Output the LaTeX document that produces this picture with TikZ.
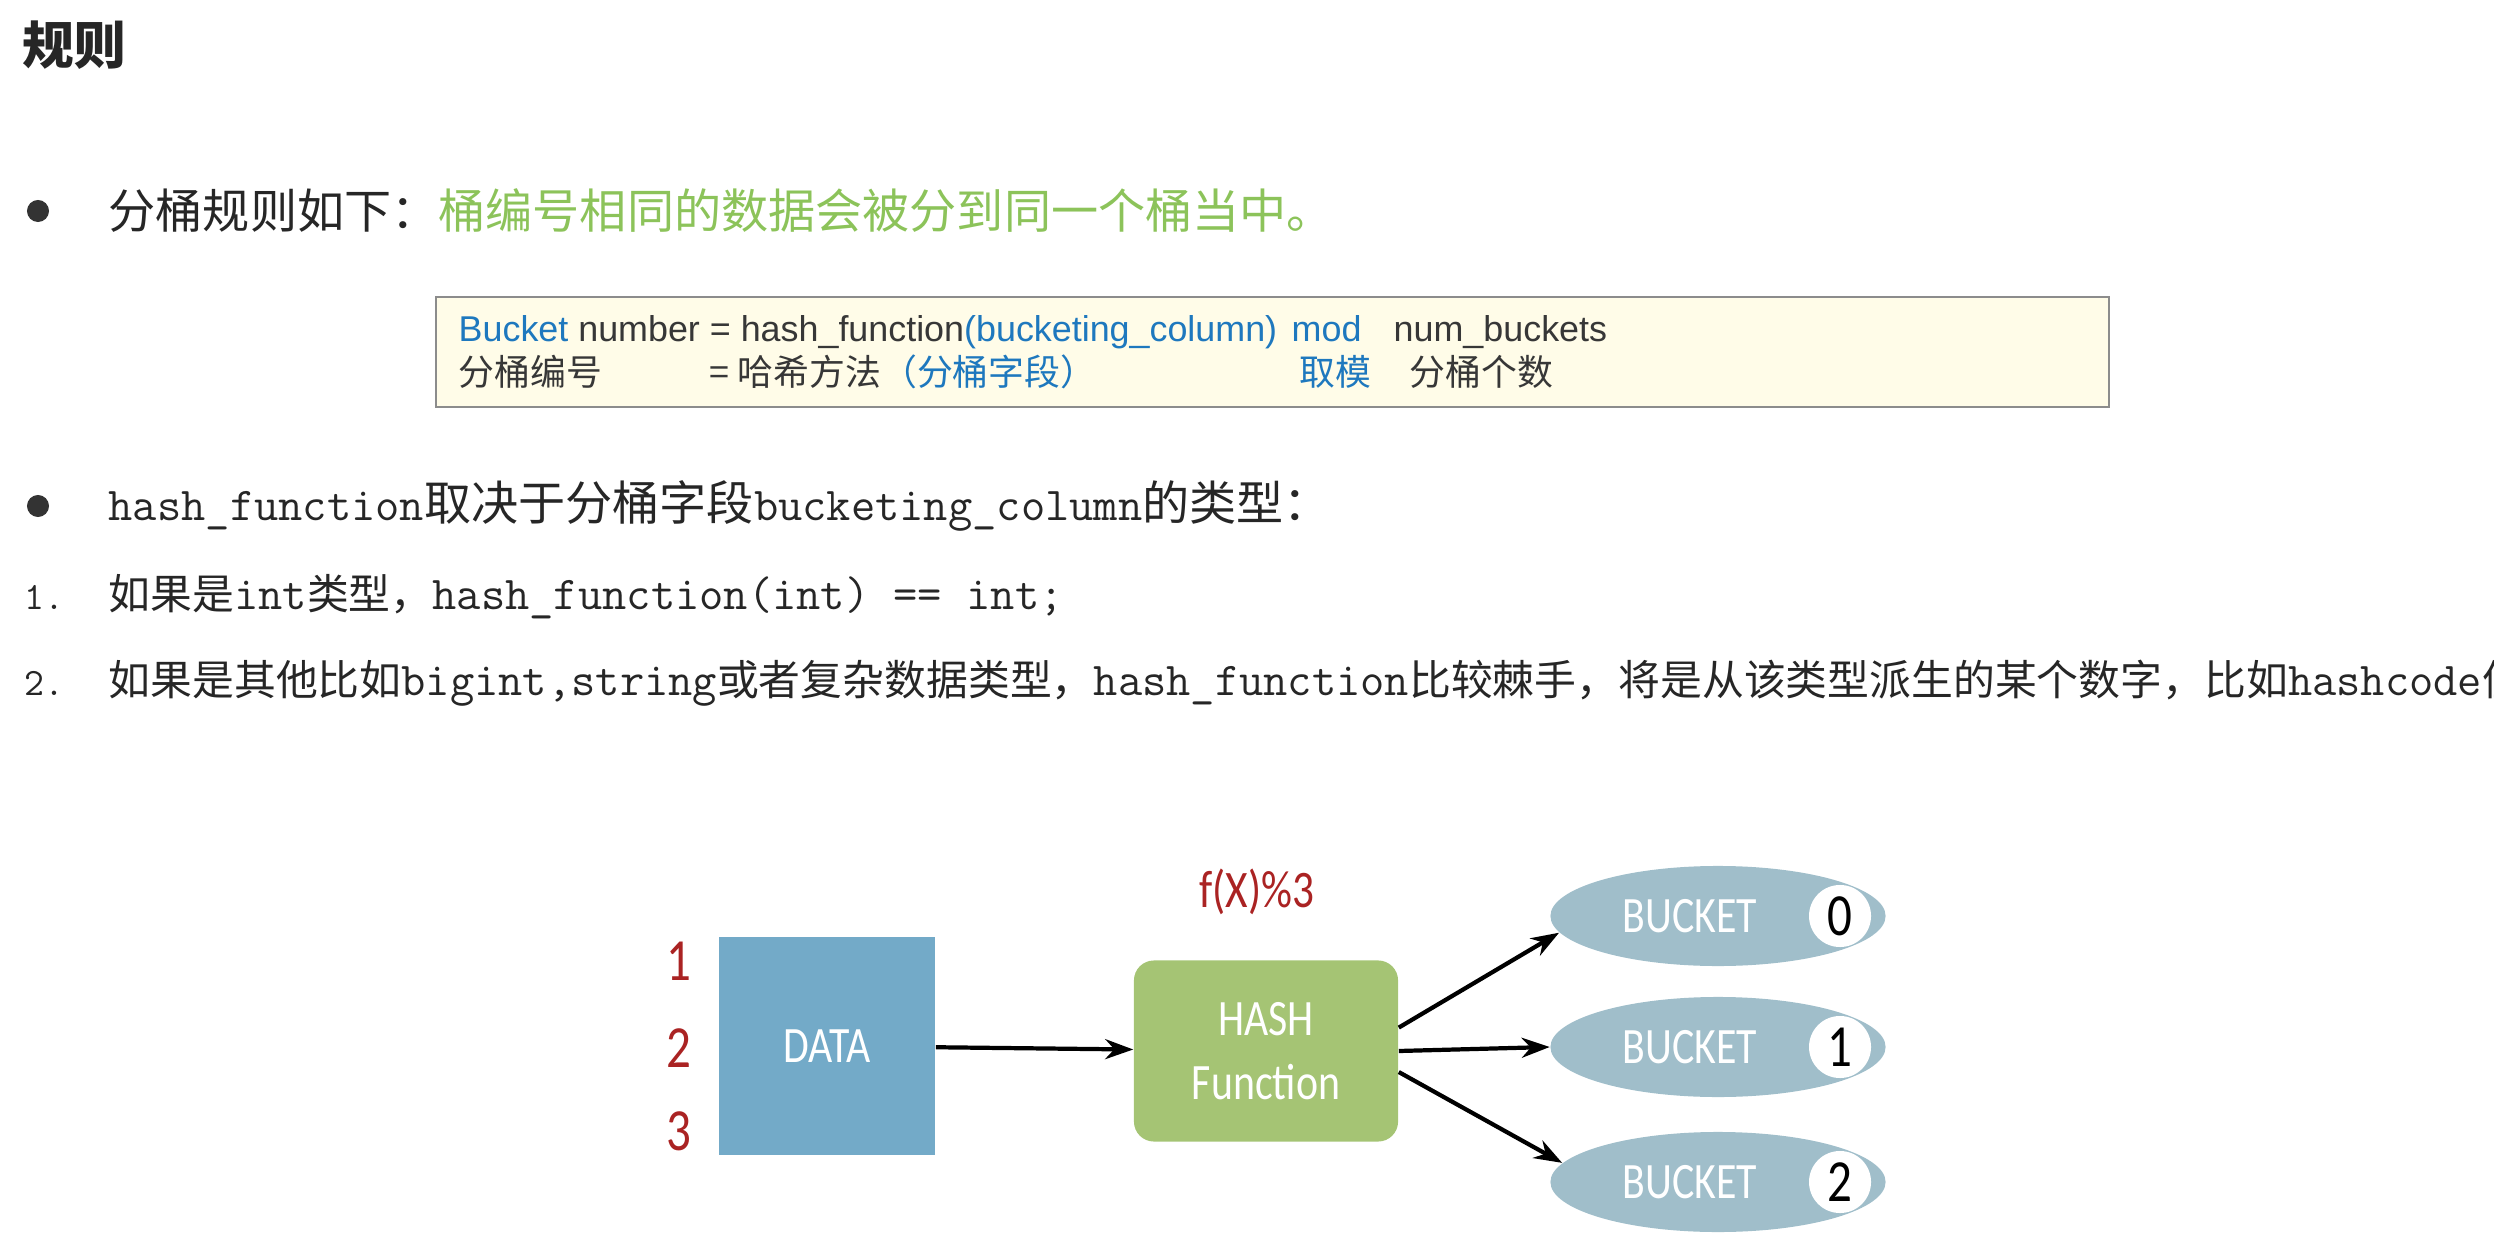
\documentclass[tikz,border=0pt]{standalone}
\usepackage{fontspec}
\setmainfont{Noto Sans CJK SC}
\newfontfamily\diagfont[FakeStretch=0.82]{Carlito}
\newfontfamily\formfont{Liberation Sans}
\usetikzlibrary{positioning,shapes.geometric,arrows.meta}
\definecolor{rulegreen}{RGB}{140,195,90}
\definecolor{formblue}{RGB}{30,120,190}
\definecolor{formgray}{RGB}{55,55,55}
\definecolor{boxfill}{RGB}{255,252,232}
\definecolor{datablue}{RGB}{115,170,200}
\definecolor{hashgreen}{RGB}{165,196,116}
\definecolor{bucketgray}{RGB}{160,190,202}
\definecolor{numred}{RGB}{170,35,35}
\newcommand{\bodysize}{\fontsize{13.4}{16}\selectfont}
\newcommand{\itemsize}{\fontsize{11.9}{15}\selectfont}
\newcommand{\formsize}{\fontsize{10.2}{12}\selectfont}
\newcommand{\code}[1]{{\fontsize{13.4}{16}\selectfont\ttfamily #1}}

\begin{document}
\begin{tikzpicture}[x=0.01cm,y=-0.01cm]
  \tikzstyle{line}=[anchor=west,inner sep=0pt,text=black!85,font=\bodysize]
  \tikzstyle{formtext}=[anchor=base west,inner sep=0pt,text=formgray,font=\formsize]
  \tikzstyle{dot}=[circle,fill=black!80,minimum size=0.22cm,inner sep=0pt]
  \tikzstyle{databox}=[rectangle,fill=datablue,text=white,minimum width=2.16cm,minimum height=2.17cm,font=\diagfont\fontsize{14.5}{16}\selectfont]
  \tikzstyle{hashbox}=[rectangle,rounded corners=0.2cm,fill=hashgreen,text=white,align=center,minimum width=2.64cm,minimum height=1.81cm,font=\diagfont\fontsize{14.5}{18}\selectfont]
  \tikzstyle{bucket}=[ellipse,fill=bucketgray,minimum width=3.35cm,minimum height=1.0cm]
  \tikzstyle{bucketlabel}=[text=white,font=\diagfont\fontsize{14.5}{16}\selectfont]
  \tikzstyle{bucketnum}=[circle,fill=white,minimum size=0.62cm,inner sep=0pt,font=\diagfont\fontsize{17}{17}\selectfont]
  \tikzstyle{rownum}=[text=numred,font=\diagfont\fontsize{17}{17}\selectfont]
  \tikzstyle{arrow}=[-{Stealth[length=0.28cm,width=0.2cm]},line width=1.2pt]

  \useasboundingbox (0,0) rectangle (2494,1258);

  % heading and text
  \node[line,font=\fontsize{14.7}{17}\selectfont\bfseries] (title) at (22,45) {规则};
  \node[dot] (dot1) at (38,211) {};
  \node[line] (rule) at (108,211) {分桶规则如下：\textcolor{rulegreen}{桶编号相同的数据会被分到同一个桶当中。}};

  % formula box
  \draw[fill=boxfill,draw=black!45] (436,297) rectangle (2109,407);
  \node[formtext,font=\formfont\formsize] (f1) at (458,342) {\textcolor{formblue}{Bucket} number = hash\_function\textcolor{formblue}{(bucketing\_column)}};
  \node[formtext,text=formblue,font=\formfont\formsize] (f1mod) at (1291,342) {mod};
  \node[formtext,font=\formfont\formsize] (f1num) at (1393,342) {num\_buckets};
  \node[formtext] (f2) at (458,386) {分桶编号};
  \node[formtext] (f2eq) at (709,386) {= 哈希方法\textcolor{formblue}{（分桶字段）}};
  \node[formtext,text=formblue] (f2mod) at (1299,386) {取模};
  \node[formtext] (f2num) at (1409,386) {分桶个数};

  \node[dot] (dot2) at (38,506) {};
  \node[line] (hashrule) at (108,506) {\code{hash\_function}取决于分桶字段\code{bucketing\_column}的类型：};
  \node[line] (n1) at (24,597) {\texttt{\fontsize{11}{13}\selectfont 1.}};
  \node[line,font=\itemsize] (item1) at (108,597) {如果是\code{int}类型，\code{hash\_function(int) == int;}};
  \node[line] (n2) at (24,683) {\texttt{\fontsize{11}{13}\selectfont 2.}};
  \node[line,font=\itemsize] (item2) at (108,683) {如果是其他比如\code{bigint,string}或者复杂数据类型，\code{hash\_function}比较棘手，将是从该类型派生的某个数字，比如\code{hashcode}值。};

  % diagram
  \node[databox] (data) at (827,1046) {DATA};
  \node[rownum] (r1) at (679,961) {1};
  \node[rownum] (r2) at (679,1048) {2};
  \node[rownum] (r3) at (679,1131) {3};
  \node[hashbox] (hash) at (1266,1051) {HASH\\Function};
  \node[text=numred,font=\diagfont\fontsize{15}{16}\selectfont] (mod) at (1257,892) {f(X)\%3};

  \foreach \i/\y in {0/916,1/1047,2/1182}{
    \node[bucket] (b\i) at (1718,\y) {};
    \node[bucketlabel] (bl\i) at (1690,\y) {BUCKET};
    \node[bucketnum] (bn\i) at (1840,\y) {\i};
  }

  \draw[arrow] (data) -- (hash);
  \draw[arrow] (hash.10.7) -- (b0.186.5);
  \draw[arrow] (hash.east) -- (b1.west);
  \draw[arrow] (hash.-9.5) -- (b2.173.5);
\end{tikzpicture}
\end{document}
